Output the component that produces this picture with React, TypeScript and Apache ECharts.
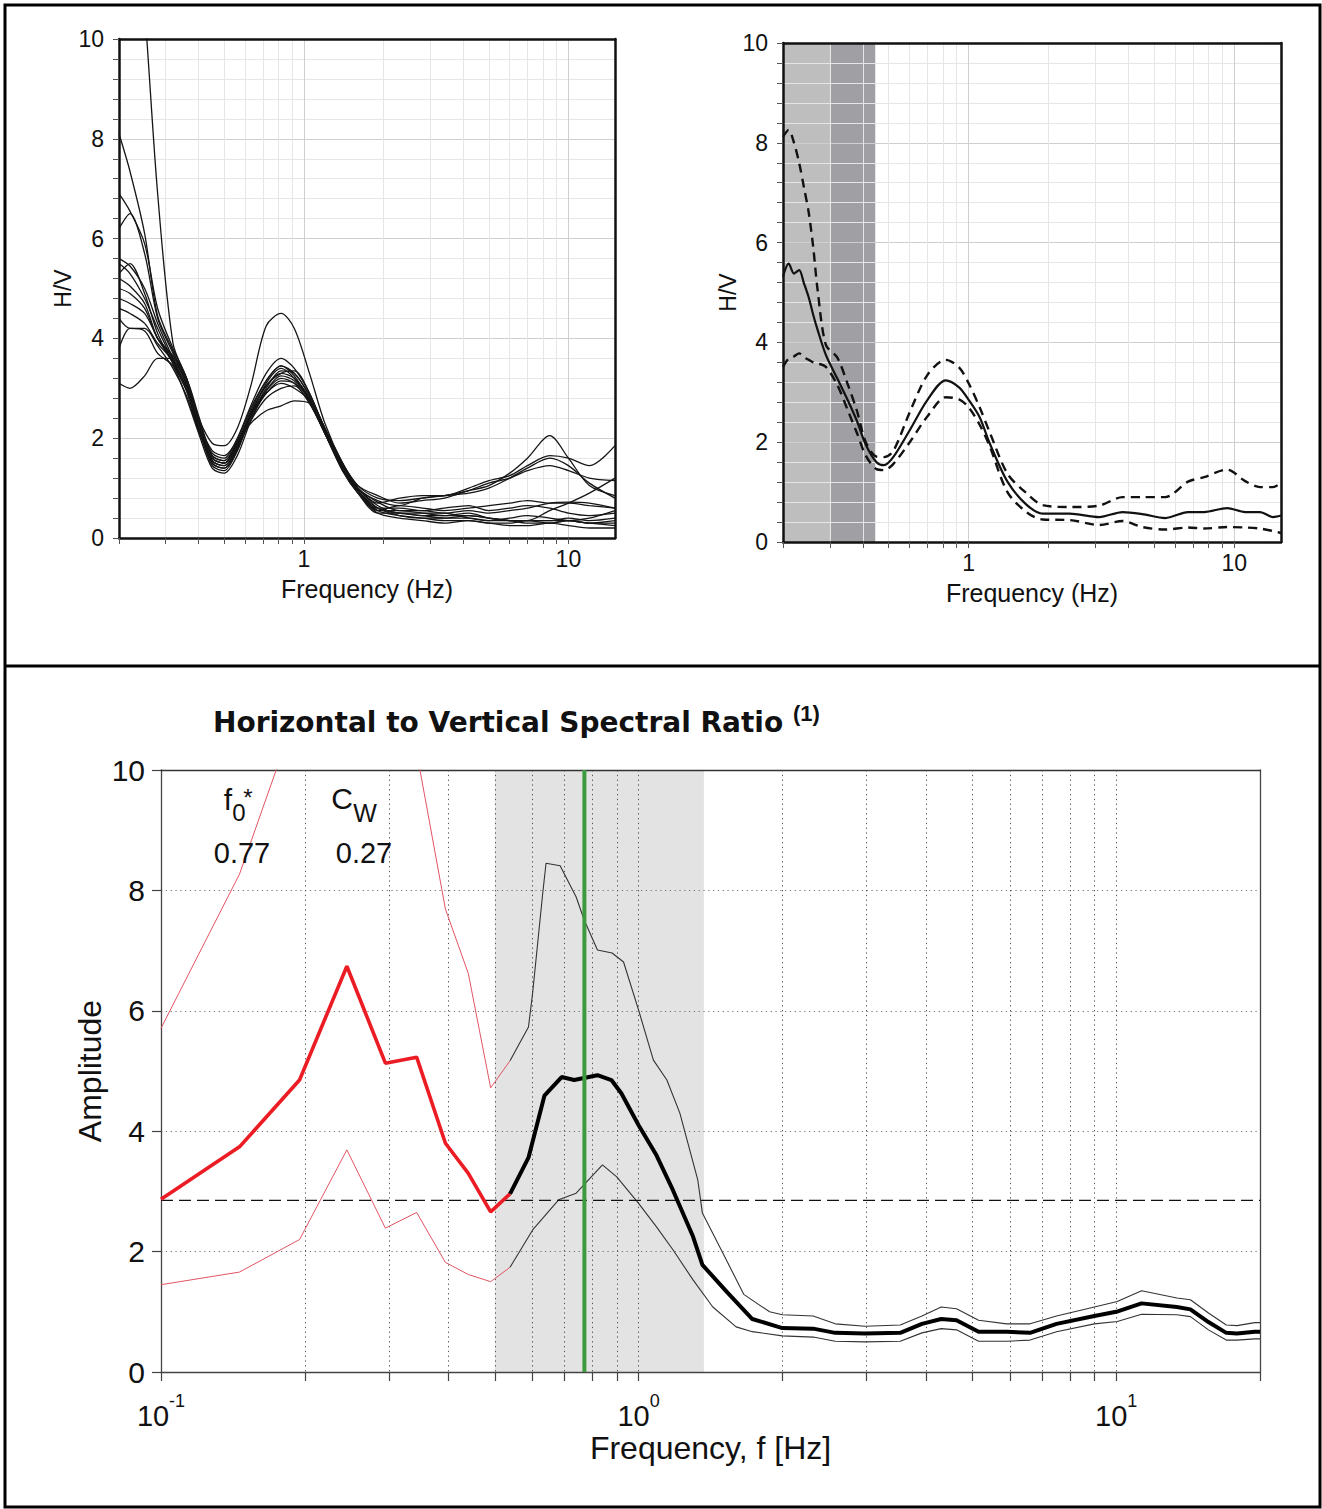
import React, { useEffect, useRef } from 'react';
import * as echarts from 'echarts';

const FONT = "'Liberation Sans', Arial, Helvetica, sans-serif";

// ---------- Panel A (top-left): individual H/V windows ----------
const TL_FREQ = [0.2, 0.22, 0.25, 0.28, 0.32, 0.36, 0.4, 0.45, 0.5, 0.56, 0.63, 0.72, 0.82, 0.92, 1.05, 1.2, 1.4, 1.6, 1.9, 2.3, 2.8, 3.4, 4.2, 5, 6, 7, 8.5, 10, 12, 15];
const TL_C1 = [8.1, 7.35, 6.1, 4.45, 3.75, 3.1, 2.3, 1.65, 1.55, 1.95, 2.6, 3.15, 3.45, 3.3, 2.85, 2.2, 1.45, 1.0, 0.72, 0.55, 0.55, 0.5, 0.55, 0.5, 0.55, 0.6, 0.7, 0.72, 0.7, 0.6];
const TL_C2 = [6.9, 6.55, 5.9, 4.6, 3.8, 3.2, 2.35, 1.7, 1.6, 2.0, 2.65, 3.3, 3.6, 3.4, 2.9, 2.2, 1.5, 1.05, 0.8, 0.75, 0.8, 0.85, 0.95, 1.05, 1.3, 1.6, 2.05, 1.6, 1.05, 0.85];
const TL_C3 = [6.2, 6.5, 5.7, 4.4, 3.7, 3.05, 2.25, 1.55, 1.45, 1.85, 2.5, 3.05, 3.3, 3.2, 2.8, 2.1, 1.4, 0.95, 0.6, 0.5, 0.45, 0.4, 0.45, 0.4, 0.35, 0.35, 0.55, 0.7, 0.9, 1.2];
const TL_C4 = [5.6, 5.45, 5.0, 4.3, 3.6, 3.0, 2.2, 1.45, 1.35, 1.75, 2.45, 2.95, 3.2, 3.1, 2.7, 2.1, 1.4, 0.95, 0.55, 0.45, 0.4, 0.35, 0.35, 0.3, 0.3, 0.35, 0.35, 0.4, 0.35, 0.4];
const TL_C5 = [5.3, 5.5, 4.9, 4.1, 3.5, 2.95, 2.15, 1.6, 1.5, 1.9, 2.45, 2.9, 3.1, 3.0, 2.75, 2.15, 1.45, 1.0, 0.7, 0.8, 0.85, 0.85, 1.0, 1.15, 1.25, 1.45, 1.65, 1.6, 1.45, 1.85];
const TL_C6 = [5.2, 5.05, 4.7, 4.0, 3.6, 3.1, 2.4, 1.9, 1.85, 2.2, 3.05, 4.25, 4.5, 4.2, 3.3, 2.3, 1.5, 1.05, 0.85, 0.7, 0.75, 0.8, 0.95, 1.1, 1.2, 1.35, 1.45, 1.35, 1.2, 1.15];
const TL_C7 = [5.0, 4.9, 4.6, 4.0, 3.65, 3.15, 2.35, 1.5, 1.4, 1.8, 2.35, 2.8, 3.0, 3.05, 2.7, 2.1, 1.35, 0.9, 0.5, 0.5, 0.45, 0.45, 0.5, 0.4, 0.35, 0.35, 0.3, 0.35, 0.3, 0.3];
const TL_C8 = [4.6, 4.5, 4.3, 3.9, 3.55, 3.0, 2.3, 1.75, 1.65, 1.95, 2.3, 2.55, 2.65, 2.75, 2.7, 2.2, 1.5, 1.0, 0.75, 0.65, 0.8, 0.85, 0.9, 1.0, 1.2, 1.4, 1.6, 1.45, 1.1, 0.8];
const TL_C9 = [4.4, 4.2, 4.2, 3.85, 3.4, 2.85, 2.15, 1.6, 1.5, 1.9, 2.55, 3.15, 3.45, 3.25, 2.75, 2.15, 1.4, 0.95, 0.6, 0.6, 0.55, 0.6, 0.65, 0.55, 0.6, 0.65, 0.6, 0.5, 0.45, 0.5];
const TL_C10 = [3.8, 4.2, 4.15, 3.7, 3.45, 2.8, 2.1, 1.4, 1.3, 1.65, 2.35, 2.95, 3.25, 3.15, 2.75, 2.1, 1.35, 0.9, 0.5, 0.4, 0.35, 0.3, 0.35, 0.3, 0.25, 0.25, 0.3, 0.25, 0.2, 0.2];
const TL_C11 = [3.1, 3.0, 3.25, 3.6, 3.6, 3.2, 2.45, 1.65, 1.55, 1.9, 2.45, 3.0, 3.35, 3.3, 2.85, 2.2, 1.45, 1.0, 0.65, 0.5, 0.5, 0.5, 0.4, 0.35, 0.4, 0.45, 0.4, 0.35, 0.3, 0.25];
const TL_C12 = [16, 14, 10.6, 6.9, 3.9, 3.2, 2.4, 1.55, 1.45, 1.8, 2.5, 3.05, 3.3, 3.35, 2.9, 2.15, 1.4, 0.95, 0.55, 0.65, 0.6, 0.55, 0.6, 0.65, 0.7, 0.75, 0.7, 0.7, 0.65, 0.6];
const TL_C13 = [5.5, 5.3, 4.8, 4.2, 3.55, 3.0, 2.2, 1.6, 1.5, 1.85, 2.4, 2.9, 3.15, 3.1, 2.8, 2.15, 1.45, 1.0, 0.6, 0.45, 0.4, 0.4, 0.4, 0.35, 0.35, 0.35, 0.35, 0.35, 0.4, 0.55];
const TL_C14 = [4.8, 4.7, 4.5, 4.0, 3.5, 2.95, 2.2, 1.5, 1.4, 1.75, 2.45, 3.1, 3.4, 3.2, 2.75, 2.1, 1.4, 0.95, 0.55, 0.55, 0.5, 0.45, 0.45, 0.4, 0.35, 0.3, 0.3, 0.35, 0.3, 0.35];
const TL_CURVES = [TL_C1, TL_C2, TL_C3, TL_C4, TL_C5, TL_C6, TL_C7, TL_C8, TL_C9, TL_C10, TL_C11, TL_C12, TL_C13, TL_C14];

// ---------- Panel B (top-right): mean and +/- std ----------
const TR_FREQ = [0.2, 0.21, 0.22, 0.23, 0.24, 0.25, 0.26, 0.27, 0.29, 0.32, 0.35, 0.38, 0.41, 0.45, 0.48, 0.52, 0.6, 0.7, 0.82, 0.92, 1.0, 1.1, 1.2, 1.4, 1.65, 1.9, 2.4, 3.1, 3.8, 4.5, 5.5, 6.7, 7.7, 9.4, 11, 12.5, 14, 15];
const TR_MEAN = [5.32, 5.58, 5.38, 5.45, 5.18, 4.9, 4.55, 4.25, 3.75, 3.28, 2.85, 2.42, 1.95, 1.6, 1.54, 1.7, 2.24, 2.85, 3.24, 3.1, 2.85, 2.5, 1.98, 1.21, 0.75, 0.57, 0.57, 0.5, 0.6, 0.56, 0.48, 0.6, 0.6, 0.68, 0.6, 0.6, 0.5, 0.53];
const TR_UPPER = [8.12, 8.26, 8.0, 7.6, 7.1, 6.6, 5.9, 5.05, 3.95, 3.7, 3.17, 2.62, 2.0, 1.71, 1.7, 1.82, 2.6, 3.35, 3.65, 3.5, 3.18, 2.7, 2.2, 1.37, 0.98, 0.74, 0.7, 0.73, 0.9, 0.9, 0.9, 1.21, 1.3, 1.45, 1.22, 1.1, 1.1, 1.18];
const TR_LOWER = [3.51, 3.68, 3.72, 3.78, 3.7, 3.65, 3.6, 3.58, 3.51, 3.15, 2.65, 2.18, 1.73, 1.46, 1.44, 1.56, 2.0, 2.52, 2.9, 2.86, 2.7, 2.35, 1.92, 1.0, 0.6, 0.45, 0.44, 0.34, 0.42, 0.3, 0.25, 0.29, 0.27, 0.3, 0.29, 0.27, 0.22, 0.18];
const TR_BAND_LIGHT = [0.2, 0.3];
const TR_BAND_DARK = [0.3, 0.445];

// ---------- Panel C (bottom): HVSR ----------
const F0 = 0.77;
const CW = 0.27;
const THRESHOLD = 2.85;
const PEAK_BAND = [0.5, 1.37];
const RED_FREQ = [0.1, 0.146, 0.195, 0.245, 0.295, 0.343, 0.394, 0.44, 0.49, 0.538];
const RED_MEAN = [2.87, 3.74, 4.85, 6.74, 5.13, 5.23, 3.8, 3.3, 2.66, 2.96];
const RED_UPPER = [5.71, 8.27, 11.1, 14.5, 11.8, 10.3, 7.69, 6.62, 4.72, 5.17];
const RED_LOWER = [1.45, 1.66, 2.2, 3.69, 2.39, 2.65, 1.82, 1.62, 1.5, 1.74];
const BLK_MEAN_FREQ = [0.538, 0.588, 0.635, 0.69, 0.733, 0.82, 0.877, 0.92, 1.0, 1.09, 1.18, 1.3, 1.36, 1.53, 1.73, 2.0, 2.32, 2.58, 2.98, 3.53, 3.92, 4.3, 4.63, 5.15, 5.9, 6.6, 7.5, 9.0, 10.0, 11.3, 13.4, 14.3, 15.6, 17.0, 17.9, 19.5, 20];
const BLK_MEAN = [2.96, 3.56, 4.59, 4.9, 4.85, 4.93, 4.85, 4.63, 4.1, 3.6, 3.02, 2.25, 1.78, 1.33, 0.88, 0.73, 0.72, 0.65, 0.64, 0.65, 0.8, 0.88, 0.86, 0.67, 0.67, 0.65, 0.8, 0.93, 1.0, 1.14, 1.08, 1.04, 0.83, 0.65, 0.64, 0.67, 0.67];
const BLK_UP_FREQ = [0.538, 0.588, 0.6, 0.63, 0.64, 0.685, 0.74, 0.77, 0.82, 0.88, 0.93, 1.0, 1.074, 1.146, 1.22, 1.33, 1.36, 1.5, 1.66, 1.88, 2.0, 2.32, 2.58, 2.98, 3.53, 3.92, 4.3, 4.63, 5.15, 5.9, 6.6, 7.5, 9.0, 10.05, 11.3, 13.4, 14.3, 15.6, 17.0, 17.9, 19.5, 20];
const BLK_UPPER = [5.17, 5.73, 6.3, 7.96, 8.45, 8.41, 7.89, 7.5, 7.01, 6.96, 6.81, 6.01, 5.18, 4.85, 4.3, 3.19, 2.64, 1.98, 1.29, 1.0, 0.95, 0.93, 0.8, 0.76, 0.78, 0.93, 1.08, 1.05, 0.86, 0.8, 0.8, 0.93, 1.08, 1.17, 1.35, 1.23, 1.2, 0.98, 0.78, 0.77, 0.82, 0.82];
const BLK_LO_FREQ = [0.538, 0.6, 0.68, 0.74, 0.84, 0.9, 1.0, 1.09, 1.18, 1.3, 1.43, 1.6, 1.73, 2.0, 2.32, 2.58, 2.98, 3.53, 3.92, 4.3, 4.63, 5.15, 5.9, 6.6, 7.5, 9.0, 10.05, 11.3, 13.4, 14.3, 15.6, 17.0, 17.9, 19.5, 20];
const BLK_LOWER = [1.74, 2.36, 2.86, 2.97, 3.44, 3.24, 2.8, 2.41, 2.03, 1.53, 1.08, 0.75, 0.67, 0.6, 0.58, 0.51, 0.5, 0.51, 0.65, 0.72, 0.7, 0.51, 0.51, 0.53, 0.67, 0.8, 0.84, 0.96, 0.95, 0.92, 0.7, 0.53, 0.53, 0.55, 0.55];

// ---------- Ticks / labels ----------
const TOP_X_TICKS = [0.2, 0.3, 0.4, 0.5, 0.6, 0.7, 0.8, 0.9, 1, 2, 3, 4, 5, 6, 7, 8, 9, 10];
const TOP_X_LABELS = [1, 10];
const TOP_Y_LABELS = [0, 2, 4, 6, 8, 10];
const BOT_X_TICKS = [0.1, 0.2, 0.3, 0.4, 0.5, 0.6, 0.7, 0.8, 0.9, 1, 2, 3, 4, 5, 6, 7, 8, 9, 10, 20];
const BOT_X_LABELS = [0.1, 1, 10];

const zip = (xs: number[], ys: number[]) => xs.map((x, i) => [x, ys[i]]);

function topXAxis(grid: number, min: number, max: number) {
  return {
    type: 'log', logBase: 10, gridIndex: grid, min, max, position: 'bottom', z: 1,
    axisLine: { show: true, onZero: false, lineStyle: { color: '#111', width: 2.5 } },
    axisTick: { show: true, inside: false, length: 6, customValues: TOP_X_TICKS, lineStyle: { color: '#555', width: 1 } },
    axisLabel: {
      show: true, customValues: TOP_X_LABELS, margin: 9, fontSize: 23, color: '#111', fontFamily: FONT,
      formatter: (v: number) => String(Math.round(v)),
    },
    splitLine: { show: true, lineStyle: { color: '#e6e6e6', width: 1 } },
    name: 'Frequency (Hz)', nameLocation: 'middle', nameGap: 38, nameMoveOverlap: false,
    nameTextStyle: { fontSize: 25, color: '#111', fontFamily: FONT },
  };
}
function topXOverlay(grid: number, min: number, max: number) {
  return {
    type: 'log', logBase: 10, gridIndex: grid, min, max, position: 'top', z: 1,
    axisLine: { show: true, onZero: false, lineStyle: { color: '#111', width: 2.5 } },
    axisTick: { show: false, customValues: TOP_X_LABELS },
    axisLabel: { show: false },
    splitLine: { show: true, lineStyle: { color: '#cfcfcf', width: 1 } },
  };
}
function topYAxis(grid: number, gap: number) {
  return {
    type: 'value', gridIndex: grid, min: 0, max: 10, interval: 0.4, position: 'left', z: 1,
    axisLine: { show: true, onZero: false, lineStyle: { color: '#111', width: 2.5 } },
    axisTick: { show: true, inside: false, length: 6, lineStyle: { color: '#555', width: 1 } },
    axisLabel: {
      show: true, customValues: TOP_Y_LABELS, margin: 15, fontSize: 23, color: '#111', fontFamily: FONT,
      formatter: (v: number) => {
        const r = Math.round(v);
        return Math.abs(v - r) < 1e-6 && r % 2 === 0 ? String(r) : '';
      },
    },
    splitLine: { show: true, lineStyle: { color: '#e6e6e6', width: 1 } },
    name: 'H/V', nameLocation: 'middle', nameGap: gap, nameRotate: 90, nameMoveOverlap: false,
    nameTextStyle: { fontSize: 23, color: '#111', fontFamily: FONT },
  };
}
function topYOverlay(grid: number) {
  return {
    type: 'value', gridIndex: grid, min: 0, max: 10, interval: 2, position: 'right', z: 1,
    axisLine: { show: true, onZero: false, lineStyle: { color: '#111', width: 2.5 } },
    axisTick: { show: false }, axisLabel: { show: false },
    splitLine: { show: true, lineStyle: { color: '#cfcfcf', width: 1 } },
  };
}

const line = (xi: number, data: number[][], color: string, width: number, extra: any = {}) => ({
  type: 'line', xAxisIndex: xi, yAxisIndex: xi, data, symbol: 'none', showSymbol: false,
  lineStyle: { color, width, ...(extra.lineStyle || {}) }, silent: true, z: 2,
  ...Object.fromEntries(Object.entries(extra).filter(([k]) => k !== 'lineStyle')),
});
const band = (xi: number, range: number[], color: string) => ({
  type: 'line', xAxisIndex: xi, yAxisIndex: xi, data: [[range[0], 10], [range[1], 10]],
  symbol: 'none', showSymbol: false, lineStyle: { width: 0, opacity: 0 },
  areaStyle: { color, opacity: 1 }, silent: true, z: 0,
});

function buildOption() {
  const series: any[] = [];
  TL_CURVES.forEach((c) => series.push(line(0, zip(TL_FREQ, c), '#151515', 1.3, { smooth: 0.3 })));

  series.push(band(2, TR_BAND_LIGHT, '#bebebe'));
  series.push(band(2, TR_BAND_DARK, '#a0a0a4'));
  series.push(line(2, zip(TR_FREQ, TR_UPPER), '#111', 2.4, { smooth: 0.3, lineStyle: { type: [9, 6] } }));
  series.push(line(2, zip(TR_FREQ, TR_LOWER), '#111', 2.4, { smooth: 0.3, lineStyle: { type: [9, 6] } }));
  series.push(line(2, zip(TR_FREQ, TR_MEAN), '#111', 2.2, { smooth: 0.3 }));

  series.push(band(4, PEAK_BAND, '#e3e3e3'));
  series.push(line(4, zip(RED_FREQ, RED_UPPER), '#e25563', 1));
  series.push(line(4, zip(RED_FREQ, RED_LOWER), '#e25563', 1));
  series.push(line(4, zip(BLK_UP_FREQ, BLK_UPPER), '#333', 1.1));
  series.push(line(4, zip(BLK_LO_FREQ, BLK_LOWER), '#333', 1.1));
  series.push(line(4, [[0.1, THRESHOLD], [20, THRESHOLD]], '#111', 1.3, { lineStyle: { type: [12, 6] } }));
  series.push(line(4, zip(RED_FREQ, RED_MEAN), '#ec1c24', 3.6, { z: 3 }));
  series.push(line(4, zip(BLK_MEAN_FREQ, BLK_MEAN), '#000', 4, { z: 3 }));
  series.push(line(4, [[F0, 0], [F0, 10]], '#3c9b3c', 4, { z: 4 }));

  const txt = (text: string, x: number, y: number, size: number) => ({
    type: 'text', x, y, silent: true, z: 10,
    style: {
      text, font: `${size}px ${FONT}`, fill: '#111',
      align: 'center', verticalAlign: 'middle', textAlign: 'center', textVerticalAlign: 'middle',
    },
  });

  return {
    animation: false,
    backgroundColor: '#fff',
    title: {
      text: '{t|Horizontal to Vertical Spectral Ratio }{s|(1)}',
      left: 213, top: 702, padding: 0,
      textStyle: {
        rich: {
          t: { fontSize: 28, fontWeight: 'bold', lineHeight: 40, color: '#111', fontFamily: "'DejaVu Sans', sans-serif" },
          s: { fontSize: 22, fontWeight: 'bold', lineHeight: 22, verticalAlign: 'top', color: '#111', fontFamily: FONT },
        },
      },
    },
    grid: [
      { left: 119, top: 39, width: 496, height: 499, outerBoundsMode: 'none', containLabel: false },
      { left: 783, top: 43, width: 498, height: 499, outerBoundsMode: 'none', containLabel: false },
      { left: 161, top: 770, width: 1099, height: 602, outerBoundsMode: 'none', containLabel: false },
    ],
    xAxis: [
      topXAxis(0, 0.2, 15),
      topXOverlay(0, 0.2, 15),
      topXAxis(1, 0.2, 15),
      topXOverlay(1, 0.2, 15),
      {
        type: 'log', logBase: 10, gridIndex: 2, min: 0.1, max: 20, position: 'bottom', z: 1,
        axisLine: { show: true, onZero: false, lineStyle: { color: '#444', width: 1.3 } },
        axisTick: { show: true, inside: false, length: 9, customValues: BOT_X_TICKS, lineStyle: { color: '#444', width: 1.2 } },
        axisLabel: {
          show: true, customValues: BOT_X_LABELS, margin: 20,
          formatter: (v: number) => `{b|10}{s|${Math.round(Math.log10(v))}}`,
          rich: {
            b: { fontSize: 29, lineHeight: 48, fontFamily: FONT, color: '#111' },
            s: { fontSize: 18, lineHeight: 18, verticalAlign: 'top', fontFamily: FONT, color: '#111' },
          },
        },
        splitLine: { show: true, lineStyle: { color: '#555', width: 1, type: [1.3, 3.5] } },
        name: 'Frequency, f [Hz]', nameLocation: 'middle', nameGap: 60, nameMoveOverlap: false,
        nameTextStyle: { fontSize: 32, color: '#111', fontFamily: FONT },
      },
      {
        type: 'log', logBase: 10, gridIndex: 2, min: 0.1, max: 20, position: 'top', z: 1,
        axisLine: { show: true, onZero: false, lineStyle: { color: '#333', width: 1.4 } },
        axisTick: { show: false }, axisLabel: { show: false }, splitLine: { show: false },
      },
    ],
    yAxis: [
      topYAxis(0, 45),
      topYOverlay(0),
      topYAxis(1, 44),
      topYOverlay(1),
      {
        type: 'value', gridIndex: 2, min: 0, max: 10, interval: 2, position: 'left', z: 1,
        axisLine: { show: true, onZero: false, lineStyle: { color: '#444', width: 1.3 } },
        axisTick: { show: true, inside: false, length: 9, lineStyle: { color: '#444', width: 1.2 } },
        axisLabel: { show: true, margin: 16, fontSize: 30, color: '#111', fontFamily: FONT },
        splitLine: { show: true, lineStyle: { color: '#777', width: 1, type: [1.3, 3.5] } },
        name: 'Amplitude', nameLocation: 'middle', nameGap: 55, nameRotate: 90, nameMoveOverlap: false,
        nameTextStyle: { fontSize: 32, color: '#111', fontFamily: FONT },
      },
      {
        type: 'value', gridIndex: 2, min: 0, max: 10, interval: 2, position: 'right', z: 1,
        axisLine: { show: true, onZero: false, lineStyle: { color: '#444', width: 1.3 } },
        axisTick: { show: false }, axisLabel: { show: false }, splitLine: { show: false },
      },
    ],
    graphic: [
      { type: 'rect', shape: { x: 5, y: 5, width: 1315, height: 1502 }, style: { fill: 'none', stroke: '#000', lineWidth: 3 }, silent: true, z: 20 },
      { type: 'line', shape: { x1: 5, y1: 666, x2: 1320, y2: 666 }, style: { stroke: '#000', lineWidth: 3 }, silent: true, z: 20 },
      txt('f', 228, 799, 30),
      txt('0', 239, 812, 24),
      txt('*', 248, 797, 24),
      txt('C', 342, 798, 30),
      txt('W', 365, 813, 25),
      txt(String(F0), 242, 853, 29),
      txt(String(CW), 364, 853, 29),
    ],
    series,
  };
}

export default function App() {
  const ref = useRef<HTMLDivElement>(null);
  useEffect(() => {
    document.body.style.margin = '0';
    const chart = echarts.init(ref.current as HTMLDivElement, null, { renderer: 'svg' });
    chart.setOption(buildOption() as any);
    return () => chart.dispose();
  }, []);
  return <div ref={ref} style={{ width: 1322, height: 1509 }} />;
}
